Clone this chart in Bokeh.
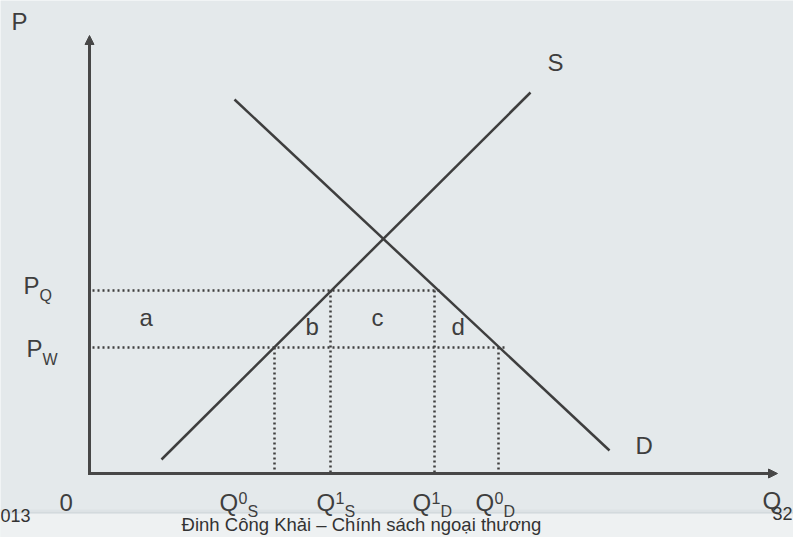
from bokeh.plotting import figure
from bokeh.models import Range1d, Arrow, NormalHead, BoxAnnotation
from bokeh.core.properties import value
from bokeh.embed import file_html
from bokeh.resources import INLINE

# ---- data (price P vs quantity Q, arbitrary units) ----
supply_q = [72, 441]
supply_p = [14, 381]
demand_q = [145, 520]
demand_p = [374, 23]
price_names = ["PQ", "PW"]
price_vals = [183, 126]          # P_Q (with quota), P_W (world price)
qty_names = ["Q0S", "Q1S", "Q1D", "Q0D"]
qty_vals = [185, 241, 345, 409]
area_labels = ["a", "b", "c", "d"]
footer_text = "Đinh Công Khải – Chính sách ngoại thương"
date_text = "013"
page_text = "32"

BG = "#e4e9eb"
INK = "#3e3e3e"
FONT = value("Liberation Sans")

p = figure(width=793, height=537, x_range=Range1d(-89, 704), y_range=Range1d(-64, 473),
           output_backend="svg", toolbar_location=None, min_border=0,
           x_axis_location=None, y_axis_location=None)
p.grid.visible = False
p.outline_line_color = None
p.background_fill_color = BG
p.border_fill_color = BG

# bottom footer band
p.add_layout(BoxAnnotation(top=-40, fill_color="#eef1f2", fill_alpha=1.0, line_color=None, level="underlay"))
p.add_layout(BoxAnnotation(top=-38, bottom=-40, fill_color="#d3dadd", fill_alpha=1.0, line_color=None, level="underlay"))
p.add_layout(BoxAnnotation(top=-36, bottom=-38, fill_color="#dde3e6", fill_alpha=1.0, line_color=None, level="underlay"))

PQ, PW = price_vals
Q0S, Q1S, Q1D, Q0D = qty_vals

# dotted guide lines
hx0 = [3, 3]
hx1 = [Q1D + 8, Q0D + 7]
p.segment(x0=hx0, y0=[PQ, PW], x1=hx1, y1=[PQ, PW], line_color=INK, line_width=2.5,
          line_dash="2 3", line_cap="butt")
p.segment(x0=qty_vals, y0=[PW, PQ, PQ, PW], x1=qty_vals, y1=[0, 0, 0, 0], line_color=INK,
          line_width=2.5, line_dash="2 3", line_cap="butt")

# supply & demand
p.line(supply_q, supply_p, line_color=INK, line_width=2.5)
p.line(demand_q, demand_p, line_color=INK, line_width=2.5)

# axes with arrows
AX = "#474747"
p.add_layout(Arrow(end=NormalHead(size=9, fill_color=AX, line_color=AX), x_start=0, y_start=-1.5,
                   x_end=0, y_end=438, line_color=AX, line_width=3))
p.add_layout(Arrow(end=NormalHead(size=9, fill_color=AX, line_color=AX), x_start=-1.5, y_start=0,
                   x_end=688, y_end=0, line_color=AX, line_width=3))

def txt(xs, ys, texts, size, color=INK, align="left"):
    shift = 0.4 * size
    p.text(x=xs, y=[y + shift for y in ys], text=texts, text_font=FONT,
           text_font_size=value(f"{size}px"), text_color=color,
           text_align=align, text_baseline="alphabetic")

# axis titles and curve labels
txt([-78, 458, 546, 673], [442, 401, 18, -37], ["P", "S", "D", "Q"], 24)
txt([-30], [-39], ["0"], 24)

# price labels with subscripts
txt([-66, -63], [178, 115], ["P", "P"], 24)
txt([-50, -47], [172, 108], [n[1] for n in price_names], 16)

# quantity labels Q^sup_sub
qx = [130, 227, 323, 386]
txt(qx, [-39] * 4, [n[0] for n in qty_names], 24)
txt([x + 19 for x in qx], [-31] * 4, [n[1] for n in qty_names], 16)
txt([x + 28 for x in qx], [-44] * 4, [n[2] for n in qty_names], 16)

# area labels
txt([50, 216, 282, 362], [146, 137, 146, 137], area_labels, 24)

# footer
txt([272], [-58], [footer_text], 18.5, color="#333333", align="center")
txt([-59], [-49], [date_text], 18, color="#333333", align="right")
txt([703], [-47], [page_text], 18, color="#333333", align="right")

open("out.html", "w").write(file_html(p, INLINE))
